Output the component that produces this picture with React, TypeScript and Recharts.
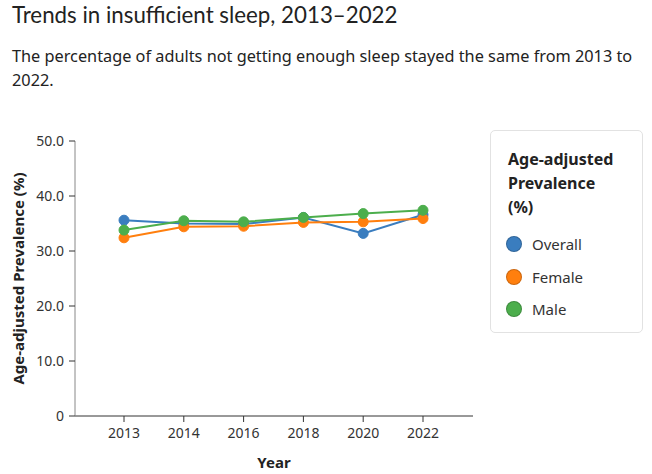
import { LineChart, Line, XAxis, YAxis } from "recharts";

const years = ["2013", "2014", "2016", "2018", "2020", "2022"];
const overall = [35.6, 35.0, 34.9, 36.1, 33.2, 36.6];
const female = [32.4, 34.4, 34.5, 35.2, 35.3, 35.9];
const male = [33.8, 35.5, 35.3, 36.1, 36.8, 37.4];
const yTicks = [0, 10, 20, 30, 40, 50];

const series = [
  { key: "overall", name: "Overall", color: "#3a7dbf" },
  { key: "female", name: "Female", color: "#ff7f0e" },
  { key: "male", name: "Male", color: "#4cae4c" },
];

const data = years.map((y, i) => ({
  year: y,
  overall: overall[i],
  female: female[i],
  male: male[i],
}));

const font = "'Noto Sans', 'Open Sans', sans-serif";

export default function App() {
  return (
    <div
      style={{
        position: "absolute",
        left: 0,
        top: 0,
        width: 652,
        height: 474,
        background: "#fff",
        fontFamily: font,
        color: "#222",
        overflow: "hidden",
      }}
    >
      <div
        style={{
          position: "absolute",
          left: 12,
          top: -1,
          fontSize: 22.3,
          lineHeight: "32px",
          fontFamily: "Lato, sans-serif",
          color: "#222",
          whiteSpace: "nowrap",
        }}
      >
        Trends in insufficient sleep, 2013–2022
      </div>
      <div
        style={{
          position: "absolute",
          left: 12,
          top: 44,
          width: 636,
          fontSize: 16.3,
          lineHeight: "24px",
          color: "#222",
        }}
      >
        The percentage of adults not getting enough sleep stayed the same from 2013 to 2022.
      </div>

      <div style={{ position: "absolute", left: 0, top: 100 }}>
        <LineChart
          width={480}
          height={374}
          data={data}
          margin={{ top: 41, right: 7, bottom: 0, left: 0 }}
        >
          <XAxis
            dataKey="year"
            padding={{ left: 49, right: 50 }}
            height={58}
            tick={{ fill: "#333", fontSize: 14, fontFamily: font }}
            tickLine={{ stroke: "#333" }}
            axisLine={{ stroke: "#333" }}
            tickSize={6}
            tickMargin={6}
            label={{
              value: "Year",
              position: "insideBottom",
              offset: 6,
              style: { fill: "#222", fontSize: 15, fontWeight: 700, fontFamily: font },
            }}
          />
          <YAxis
            width={75}
            domain={[0, 50]}
            ticks={yTicks}
            tickFormatter={(v: number) => (v === 0 ? "0" : v.toFixed(1))}
            tick={{ fill: "#333", fontSize: 14, fontFamily: font }}
            tickLine={{ stroke: "#333" }}
            axisLine={{ stroke: "#888" }}
            tickSize={6}
            tickMargin={5}
            label={{
              value: "Age-adjusted Prevalence (%)",
              angle: -90,
              position: "insideLeft",
              dx: 14,
              style: {
                textAnchor: "middle",
                fill: "#222",
                fontSize: 15,
                fontWeight: 700,
                fontFamily: font,
              },
            }}
          />
          {series.map((s) => (
            <Line
              key={s.key}
              dataKey={s.key}
              name={s.name}
              stroke={s.color}
              strokeWidth={2}
              dot={{ r: 5, fill: s.color, stroke: s.color, strokeWidth: 1 }}
              isAnimationActive={false}
            />
          ))}
        </LineChart>
      </div>

      <div
        style={{
          position: "absolute",
          left: 490,
          top: 130,
          width: 151,
          height: 201,
          border: "1px solid #e2e2e2",
          borderRadius: 5,
        }}
      >
        <div
          style={{
            position: "absolute",
            left: 17,
            top: 16,
            fontSize: 16,
            lineHeight: "24px",
            fontWeight: 700,
            color: "#222",
          }}
        >
          Age-adjusted
          <br />
          Prevalence
          <br />
          (%)
        </div>
        {series.map((s, i) => (
          <div
            key={s.key}
            style={{
              position: "absolute",
              left: 15,
              top: 102 + i * 32.5,
              display: "flex",
              alignItems: "center",
              height: 22,
            }}
          >
            <span
              style={{
                display: "inline-block",
                width: 16,
                height: 16,
                borderRadius: "50%",
                background: s.color,
                boxSizing: "border-box",
                border: "1px solid rgba(0,0,0,0.2)",
              }}
            />
            <span style={{ marginLeft: 10, fontSize: 15, color: "#333" }}>{s.name}</span>
          </div>
        ))}
      </div>
    </div>
  );
}
